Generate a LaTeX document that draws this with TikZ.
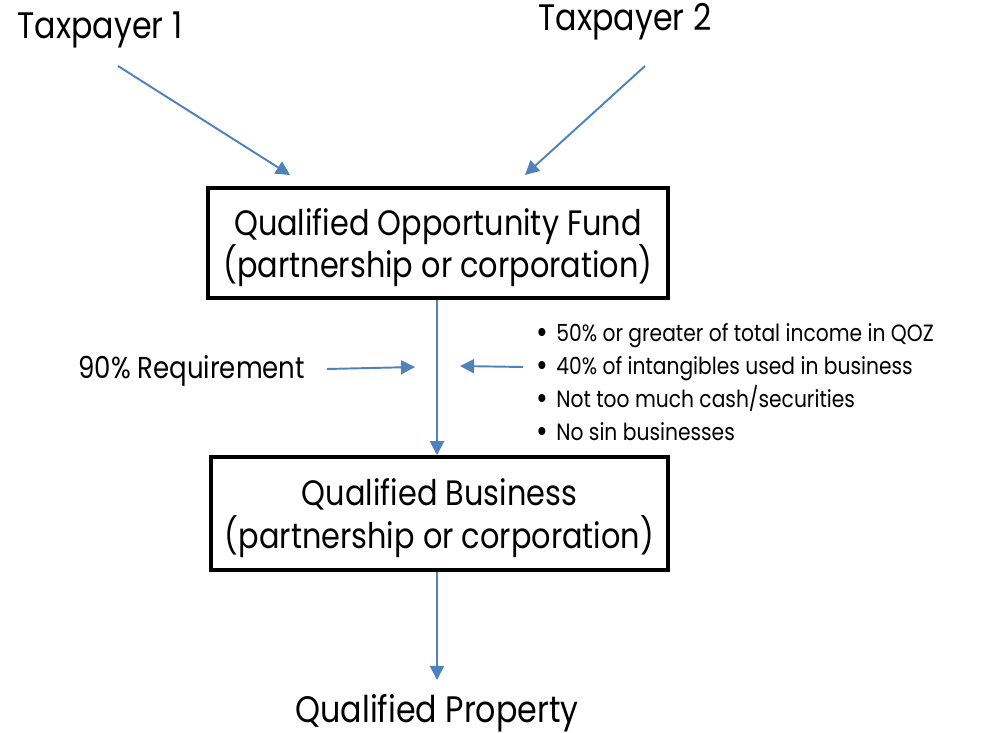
\documentclass[tikz,border=0pt]{standalone}
\usepackage{fontspec}
\setmainfont[FakeStretch=0.86]{Poppins}
\usetikzlibrary{arrows.meta,positioning}
\definecolor{flowblue}{RGB}{79,129,189}
\newcommand{\testdot}{\makebox[0.4cm][l]{\raisebox{-0.12ex}{\scalebox{1.4}{\textbullet}}}}
\tikzset{
  fundbox/.style={draw=black,line width=2pt,align=center,inner sep=0pt,
    text depth=0pt,font=\fontsize{20.1}{24.4}\selectfont},
  label/.style={inner sep=0pt,font=\fontsize{21}{24}\selectfont},
  flow/.style={draw=flowblue,line width=1.1pt,-{Triangle[length=8pt,width=8pt]}},
}
\begin{document}
\begin{tikzpicture}[x=0.02cm,y=-0.02cm]
        \useasboundingbox (0,0) rectangle (998,733) ;
        % people putting money in
        \node[label] (tp1) at (100,30) {Taxpayer 1} ;
        \node[label] (tp2) at (625,22) {Taxpayer 2} ;
        \node[fundbox,minimum width=9.2cm,minimum height=2.2cm] (qof) at (438,243)
        {Qualified Opportunity Fund\\(partnership or corporation)} ;
        \node[fundbox,minimum width=9.14cm,minimum height=2.26cm] (qb) at (439.5,513.5)
        {Qualified Business\\(partnership or corporation)} ;
        \node[label] (qp) at (437,713) {Qualified Property} ;
        \coordinate (in1) at (290,175) ;
        \coordinate (in2) at (525,175) ;
        \draw[flow] (118,66) -- (in1) ;
        \draw[flow] (645,66) -- (in2) ;
        \draw[flow] (qof.south -| 437,0) -- (qb.north -| 437,0) ;
        \coordinate (out) at (437,680) ;
        \draw[flow] (qb.south -| 437,0) -- (out) ;
        % tests on the business
        \node[label,anchor=west,font=\fontsize{17.2}{20}\selectfont] (req) at (78,371)
        {90\% Requirement} ;
        \coordinate (reqtip) at (415,367) ;
        \draw[flow] (327,369) -- (reqtip) ;
        \node[anchor=west,inner sep=0pt,align=left,
          font=\fontsize{13.4}{18.7}\selectfont] (tests) at (536,383)
        {\testdot 50\% or greater of total income in QOZ\\
         \testdot 40\% of intangibles used in business\\
         \testdot Not too much cash/securities\\
         \testdot No sin businesses} ;
        \coordinate (teststip) at (460,366) ;
        \draw[flow] (523,367) -- (teststip) ;
      \end{tikzpicture}
\end{document}
